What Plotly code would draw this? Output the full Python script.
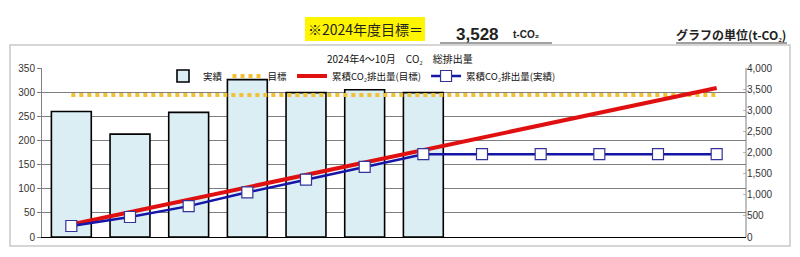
import plotly.graph_objects as go

months = ["4月", "5月", "6月", "7月", "8月", "9月", "10月", "11月", "12月", "1月", "2月", "3月"]
actual = [260, 213, 258, 326, 299, 305, 299, None, None, None, None, None]
target_monthly = [294] * 12
cum_target = [294, 588, 882, 1176, 1470, 1764, 2058, 2352, 2646, 2940, 3234, 3528]
cum_actual = [260, 473, 731, 1057, 1356, 1661, 1960, 1960, 1960, 1960, 1960, 1960]
left_ticks = [0, 50, 100, 150, 200, 250, 300, 350]
right_ticks = [0, 500, 1000, 1500, 2000, 2500, 3000, 3500, 4000]

W, H = 800, 257
ML, MR, MT, MB = 42, 54, 68, 20
PW, PH = W - ML - MR, H - MT - MB

def px(x):
    return (x - ML) / PW

def py(y):
    return (H - MB - y) / PH

JP = "Noto Sans CJK JP"
NUM = "Liberation Sans, Arial, sans-serif"

fig = go.Figure()
fig.add_trace(go.Bar(
    x=months, y=actual, name="実績", width=0.68,
    marker=dict(color="#DAEEF3", line=dict(color="#000000", width=1.6)),
    yaxis="y",
))
fig.add_trace(go.Scatter(
    x=months, y=target_monthly, name="目標", mode="lines",
    line=dict(color="#F2C232", width=4, dash="dot"), yaxis="y",
))
fig.add_trace(go.Scatter(
    x=months, y=cum_target, name="累積CO₂排出量(目標)", mode="lines",
    line=dict(color="#E01010", width=4), yaxis="y2",
))
fig.add_trace(go.Scatter(
    x=months, y=cum_actual, name="累積CO₂排出量(実績)", mode="lines+markers",
    line=dict(color="#1515A8", width=2.5),
    marker=dict(symbol="square", size=11, color="#FFFFFF", line=dict(color="#333399", width=1.2)),
    yaxis="y2",
))

shapes = [
    dict(type="rect", xref="paper", yref="paper", x0=px(10), x1=px(790), y0=py(246), y1=py(45),
         line=dict(color="#C8C8C8", width=1.5), fillcolor="rgba(0,0,0,0)", layer="below"),
    dict(type="rect", xref="paper", yref="paper", x0=px(305), x1=px(425), y0=py(41), y1=py(17),
         line=dict(width=0), fillcolor="#FFF500", layer="below"),
    dict(type="line", xref="paper", yref="paper", x0=px(440), x1=px(552), y0=py(43), y1=py(43),
         line=dict(color="#A0A0A0", width=2)),
    dict(type="line", xref="paper", yref="paper", x0=px(676), x1=px(787), y0=py(43), y1=py(43),
         line=dict(color="#A0A0A0", width=2)),
    dict(type="line", xref="paper", yref="paper", x0=1, x1=1, y0=0, y1=1,
         line=dict(color="#808080", width=1)),
]

annotations = [
    dict(text="※2024年度目標＝", xref="paper", yref="paper", x=px(365), y=py(29),
         showarrow=False, font=dict(family=JP, size=14, color="#222222"), xanchor="center", yanchor="middle"),
    dict(text="<b>3,528</b>", xref="paper", yref="paper", x=px(478), y=py(34),
         showarrow=False, font=dict(family=NUM, size=17, color="#222222"), xanchor="center", yanchor="middle"),
    dict(text="<b>t-CO₂</b>", xref="paper", yref="paper", x=px(526), y=py(34),
         showarrow=False, font=dict(family=NUM, size=10, color="#222222"), xanchor="center", yanchor="middle"),
    dict(text="<b>グラフの単位(t-CO₂)</b>", xref="paper", yref="paper", x=px(731), y=py(34),
         showarrow=False, font=dict(family=JP, size=12, color="#222222"), xanchor="center", yanchor="middle"),
    dict(text="2024年4～10月　CO₂　総排出量", xref="paper", yref="paper", x=px(400), y=py(59),
         showarrow=False, font=dict(family=JP, size=10, color="#111111"), xanchor="center", yanchor="middle"),
]

fig.update_layout(
    width=W, height=H,
    margin=dict(l=ML, r=MR, t=MT, b=MB, pad=0),
    paper_bgcolor="white", plot_bgcolor="white",
    showlegend=True,
    legend=dict(orientation="h", x=px(163), y=py(76), xanchor="left", yanchor="middle",
                font=dict(family=JP, size=9.5, color="#111111"), bgcolor="rgba(0,0,0,0)",
                itemwidth=30, tracegroupgap=0, borderwidth=0),
    bargap=0.32,
    xaxis=dict(type="category", showticklabels=False, showgrid=False, zeroline=False,
               showline=True, linecolor="#000000", linewidth=1, ticks="", range=[-0.5, 11.5]),
    yaxis=dict(range=[0, 350], tickvals=left_ticks, ticktext=[str(v) for v in left_ticks],
               showgrid=True, gridcolor="#7F7F7F", gridwidth=1, zeroline=False,
               showline=True, linecolor="#7F7F7F", linewidth=1, ticks="outside", ticklen=4,
               tickcolor="#7F7F7F", tickfont=dict(family=NUM, size=10, color="#333333")),
    yaxis2=dict(range=[0, 4000], tickvals=right_ticks, ticktext=[f"{v:,}" for v in right_ticks],
                overlaying="y", side="right", showgrid=False, zeroline=False,
                showline=False, ticks="inside", ticklen=3, tickcolor="#BBBBBB",
                tickfont=dict(family=NUM, size=10, color="#333333")),
    shapes=shapes,
    annotations=annotations,
)

fig.write_html("out.html")
